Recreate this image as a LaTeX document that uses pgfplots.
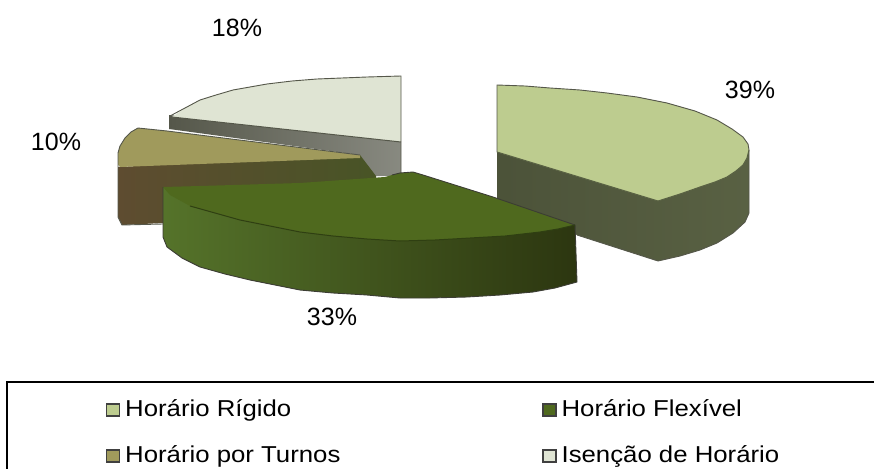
\documentclass[border=0pt]{standalone}
\usepackage{fontspec}
\setmainfont{Liberation Sans}
\newfontfamily\legfont[FakeStretch=1.12]{Liberation Sans}
\usepackage{pgfplots}
\pgfplotsset{compat=1.18}
\definecolor{rigido}{HTML}{BDCC8F}
\definecolor{rigidoside}{HTML}{596143}
\definecolor{flex}{HTML}{4F691E}
\definecolor{flexl}{HTML}{55732A}
\definecolor{flexr}{HTML}{2C3610}
\definecolor{turnos}{HTML}{A09A5C}
\definecolor{turnosl}{HTML}{5E4C30}
\definecolor{turnosr}{HTML}{485426}
\definecolor{isencao}{HTML}{DFE4D3}
\definecolor{edge}{HTML}{55574A}
\pgfplotsset{
  slice/.style={forget plot,no markers,draw=none},
  rim/.style={forget plot,no markers,draw=edge,line width=0.9pt},
  swatch/.style={legend image code/.code={
    \fill[draw=black!75,line width=1.2pt,fill=#1] (0pt,-6pt) rectangle (13pt,6pt);}},
}
\begin{document}
\begin{tikzpicture}
\begin{axis}[
  hide axis,scale only axis,
  width=874pt,height=468pt,
  xmin=0,xmax=874,ymin=0,ymax=468,y dir=reverse,
  legend columns=2,
  legend cell align=left,
  legend style={at={(axis cs:106,399)},anchor=north west,draw=none,fill=none,
    inner sep=0pt,outer sep=0pt,font=\legfont\fontsize{23}{25}\selectfont,
    row sep=24pt,
    nodes={inner sep=0pt,outer sep=0pt,text height=17pt,text depth=5pt},
    /tikz/every odd column/.append style={column sep=5pt},
    /tikz/every even column/.append style={column sep=202pt},
  },
]
\addlegendimage{swatch=rigido}
\addlegendimage{swatch=flex}
\addlegendimage{swatch=turnos}
\addlegendimage{swatch=isencao}
\legend{Horário Rígido,Horário Flexível,Horário por Turnos,Isenção de Horário}

% keeps the whole 874x468 box in the picture
\path (axis cs:0,0) (axis cs:874,468);

% legend frame, open at the bottom and right
\addplot[forget plot,no markers,black,line width=2pt] coordinates {(7,469) (7,382) (875,382)};

% Horario Rigido
\addplot[slice,left color=rigidoside!85!black,right color=rigidoside] coordinates {
  (497,152) (658,201) (749,150) (749,213) (745,222) (733,233) (717,243) (700,250) (680,256) (658,261) (577,235) (497,200)} --cycle;
\addplot[slice,fill=rigido] coordinates {
  (497,85) (525,86) (550,88) (580,90) (607,93) (637,97) (667,103) (695,111) (717,120) (732,129) (743,137) (748,144) (749,150) (747,158) (743,165)
  (736,171) (727,177) (715,182) (700,187) (680,194) (658,201) (497,152)} --cycle;
\addplot[rim] coordinates {(497,152) (497,85) (525,86) (550,88) (580,90) (607,93) (637,97) (667,103) (695,111) (717,120) (732,129) (743,137) (748,144) (749,150)
  (749,213) (745,222) (733,233) (717,243) (700,250) (680,256) (658,261) (577,235)};
\addplot[forget plot,no markers,draw=rigidoside,line width=1pt] coordinates {
  (749,150) (747,158) (743,165) (736,171) (727,177) (715,182) (700,187) (680,194) (658,201) (497,152)};

% Isencao de Horario
\addplot[slice,left color=edge,right color=edge!70!white] coordinates {
  (169,115) (401,142) (401,176) (360,176) (360,155) (169,129)} --cycle;
\addplot[slice,fill=isencao] coordinates {
  (172,117) (185,108) (200,100) (216,95) (233,90) (250,87) (267,84) (292,81) (317,79) (342,78) (367,77) (401,76) (401,142)} --cycle;
\addplot[rim] coordinates {(170,129) (170,116) (185,108) (200,100) (216,95) (233,90) (250,87) (267,84) (292,81) (317,79) (342,78) (367,77) (401,76) (401,176)};
\addplot[forget plot,no markers,draw=edge,line width=1pt] coordinates {(172,117) (401,142)};

% Horario por Turnos
\addplot[slice,left color=turnosl,right color=turnosr] coordinates {
  (118,167) (360,155) (376,176) (376,190) (163,223) (122,225) (118,217)} --cycle;
\addplot[slice,fill=turnos] coordinates {
  (118,153) (120,146) (125,138) (131,132) (138,128) (167,131) (360,155) (360,158) (120,167) (118,165)} --cycle;
\addplot[rim] coordinates {(163,224) (122,225) (118,217) (118,153) (120,146) (125,138) (131,132) (138,128) (167,131) (360,155)};

% Horario Flexivel
\addplot[slice,left color=flexl,right color=flexr] coordinates {
  (163,187) (575,225) (577,282) (555,288) (533,292) (500,295) (467,297) (430,298) (400,298) (367,295) (333,293) (300,290)
  (275,285) (250,280) (225,274) (200,267) (182,258) (167,247) (163,237)} --cycle;
\addplot[slice,fill=flex] coordinates {
  (385,177) (392,175) (400,173) (413,172) (423,175) (493,197) (575,225) (558,229) (540,232) (505,236) (470,238) (435,240) (400,241)
  (367,239) (333,236) (300,232) (270,226) (240,220) (190,206) (170,195) (163,187) (200,186) (300,183)} --cycle;
\addplot[rim,draw=edge!70!black] coordinates {(392,175) (400,173) (413,172) (423,175) (493,197) (575,225) (577,282)
  (555,288) (533,292) (500,295) (467,297) (430,298) (400,298) (367,295) (333,293) (300,290) (275,285) (250,280) (225,274) (200,267) (182,258) (167,247) (163,237) (163,187)};
\addplot[forget plot,no markers,draw=flex!60!black,line width=1pt] coordinates {
  (575,225) (558,229) (540,232) (505,236) (470,238) (435,240) (400,241) (367,239) (333,236) (300,232) (270,226) (240,220) (190,206)};

% percent labels
\node[font=\fontsize{25}{28}\selectfont] at (axis cs:237,28) {18\%};
\node[font=\fontsize{25}{28}\selectfont] at (axis cs:750,90) {39\%};
\node[font=\fontsize{25}{28}\selectfont] at (axis cs:56,142) {10\%};
\node[font=\fontsize{25}{28}\selectfont] at (axis cs:332,317) {33\%};
\end{axis}
\end{tikzpicture}
\end{document}
